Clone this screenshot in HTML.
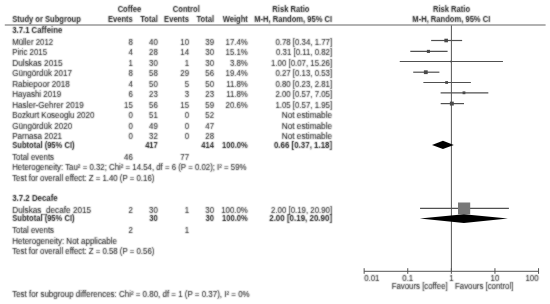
<!DOCTYPE html>
<html><head><meta charset="utf-8"><style>
html,body{margin:0;padding:0;background:#fff;width:550px;height:304px;overflow:hidden}
svg{display:block}
text{font-family:"Liberation Sans",Arial,sans-serif;fill:#222;stroke:#222;stroke-width:0.08px}
text[font-weight=bold]{fill:#1a1a1a;stroke:#1a1a1a;stroke-width:0px}
</style></head><body>
<svg width="550" height="304" viewBox="0 0 550 304">
<defs><filter id="sf" x="0" y="0" width="550" height="304" filterUnits="userSpaceOnUse"><feConvolveMatrix order="3" kernelMatrix="1 2 1 2 12 2 1 2 1" divisor="24" edgeMode="duplicate"/></filter></defs>
<line x1="4.8" y1="25.0" x2="545.6" y2="25.0" stroke="#666" stroke-width="1.2"/>
<g>
<line x1="451.4" y1="25.4" x2="451.4" y2="271.3" stroke="#555" stroke-width="1"/>
<line x1="431.15" y1="40.50" x2="462.14" y2="40.50" stroke="#505050" stroke-width="1.2"/>
<rect x="444.35" y="38.70" width="3.6" height="3.6" fill="#4a4a4a"/>
<line x1="410.30" y1="51.40" x2="447.58" y2="51.40" stroke="#505050" stroke-width="1.2"/>
<rect x="426.88" y="49.85" width="3.1" height="3.1" fill="#4a4a4a"/>
<line x1="399.74" y1="61.50" x2="502.95" y2="61.50" stroke="#505050" stroke-width="1.2"/>
<rect x="450.10" y="60.75" width="1.5" height="1.5" fill="#4a4a4a"/>
<line x1="413.21" y1="72.20" x2="439.39" y2="72.20" stroke="#505050" stroke-width="1.2"/>
<rect x="423.90" y="70.30" width="3.8" height="3.8" fill="#4a4a4a"/>
<line x1="423.36" y1="82.50" x2="470.89" y2="82.50" stroke="#505050" stroke-width="1.2"/>
<rect x="445.22" y="81.10" width="2.8" height="2.8" fill="#4a4a4a"/>
<line x1="440.62" y1="92.80" x2="488.33" y2="92.80" stroke="#505050" stroke-width="1.2"/>
<rect x="462.57" y="91.40" width="2.8" height="2.8" fill="#4a4a4a"/>
<line x1="440.69" y1="103.60" x2="463.99" y2="103.60" stroke="#505050" stroke-width="1.2"/>
<rect x="449.89" y="101.65" width="3.9" height="3.9" fill="#4a4a4a"/>
<line x1="420.04" y1="208.4" x2="508.91" y2="208.4" stroke="#505050" stroke-width="1.2"/>
<rect x="458" y="202.5" width="12.2" height="11.8" fill="#787878"/>
<polygon points="432.03,144.9 442.93,140.70000000000002 453.84,144.9 442.93,149.1" fill="#000"/>
<polygon points="419.86,218.6 463.87,214.2 507.90,218.6 463.87,223.0" fill="#000"/>
<line x1="364.15" y1="271.3" x2="538.55" y2="271.3" stroke="#555" stroke-width="1"/>
<line x1="364.15" y1="268.2" x2="364.15" y2="273.8" stroke="#555" stroke-width="1"/>
<line x1="407.75" y1="268.2" x2="407.75" y2="273.8" stroke="#555" stroke-width="1"/>
<line x1="451.35" y1="268.2" x2="451.35" y2="273.8" stroke="#555" stroke-width="1"/>
<line x1="494.95" y1="268.2" x2="494.95" y2="273.8" stroke="#555" stroke-width="1"/>
<line x1="538.55" y1="268.2" x2="538.55" y2="273.8" stroke="#555" stroke-width="1"/>
</g>
<g filter="url(#sf)">
<text transform="translate(129.45 11.50) scale(1 1.08)" font-size="7.6" text-anchor="middle" font-weight="bold">Coffee</text>
<text transform="translate(186.30 11.50) scale(1 1.08)" font-size="7.6" text-anchor="middle" font-weight="bold">Control</text>
<text transform="translate(290.90 11.50) scale(1 1.08)" font-size="7.6" text-anchor="middle" font-weight="bold">Risk Ratio</text>
<text transform="translate(451.50 11.50) scale(1 1.08)" font-size="7.6" text-anchor="middle" font-weight="bold">Risk Ratio</text>
<text transform="translate(12.20 22.10) scale(1 1.08)" font-size="7.6" font-weight="bold">Study or Subgroup</text>
<text transform="translate(132.80 22.10) scale(1 1.08)" font-size="7.6" text-anchor="end" font-weight="bold">Events</text>
<text transform="translate(157.80 22.10) scale(1 1.08)" font-size="7.6" text-anchor="end" font-weight="bold">Total</text>
<text transform="translate(189.00 22.10) scale(1 1.08)" font-size="7.6" text-anchor="end" font-weight="bold">Events</text>
<text transform="translate(214.00 22.10) scale(1 1.08)" font-size="7.6" text-anchor="end" font-weight="bold">Total</text>
<text transform="translate(247.80 22.10) scale(1 1.08)" font-size="7.6" text-anchor="end" font-weight="bold">Weight</text>
<text transform="translate(332.10 22.10) scale(1 1.08)" font-size="7.6" text-anchor="end" font-weight="bold">M-H, Random, 95% CI</text>
<text transform="translate(451.30 22.10) scale(1 1.08)" font-size="7.6" text-anchor="middle" font-weight="bold">M-H, Random, 95% CI</text>
<text transform="translate(12.20 32.90) scale(1 1.08)" font-size="7.6" font-weight="bold" textLength="50.0" lengthAdjust="spacingAndGlyphs">3.7.1 Caffeine</text>
<text transform="translate(12.20 45.00) scale(1 1.08)" font-size="7.85">Müller 2012</text>
<text transform="translate(132.80 45.00) scale(1 1.08)" font-size="7.85" text-anchor="end">8</text>
<text transform="translate(157.80 45.00) scale(1 1.08)" font-size="7.85" text-anchor="end">40</text>
<text transform="translate(189.00 45.00) scale(1 1.08)" font-size="7.85" text-anchor="end">10</text>
<text transform="translate(214.00 45.00) scale(1 1.08)" font-size="7.85" text-anchor="end">39</text>
<text transform="translate(247.80 45.00) scale(1 1.08)" font-size="7.85" text-anchor="end">17.4%</text>
<text transform="translate(332.10 45.00) scale(1 1.08)" font-size="7.85" text-anchor="end">0.78 [0.34, 1.77]</text>
<text transform="translate(12.20 55.45) scale(1 1.08)" font-size="7.85">Piric 2015</text>
<text transform="translate(132.80 55.45) scale(1 1.08)" font-size="7.85" text-anchor="end">4</text>
<text transform="translate(157.80 55.45) scale(1 1.08)" font-size="7.85" text-anchor="end">28</text>
<text transform="translate(189.00 55.45) scale(1 1.08)" font-size="7.85" text-anchor="end">14</text>
<text transform="translate(214.00 55.45) scale(1 1.08)" font-size="7.85" text-anchor="end">30</text>
<text transform="translate(247.80 55.45) scale(1 1.08)" font-size="7.85" text-anchor="end">15.1%</text>
<text transform="translate(332.10 55.45) scale(1 1.08)" font-size="7.85" text-anchor="end">0.31 [0.11, 0.82]</text>
<text transform="translate(12.20 65.90) scale(1 1.08)" font-size="7.85" textLength="50.36" lengthAdjust="spacingAndGlyphs">Dulskas 2015</text>
<text transform="translate(132.80 65.90) scale(1 1.08)" font-size="7.85" text-anchor="end">1</text>
<text transform="translate(157.80 65.90) scale(1 1.08)" font-size="7.85" text-anchor="end">30</text>
<text transform="translate(189.00 65.90) scale(1 1.08)" font-size="7.85" text-anchor="end">1</text>
<text transform="translate(214.00 65.90) scale(1 1.08)" font-size="7.85" text-anchor="end">30</text>
<text transform="translate(247.80 65.90) scale(1 1.08)" font-size="7.85" text-anchor="end">3.8%</text>
<text transform="translate(332.10 65.90) scale(1 1.08)" font-size="7.85" text-anchor="end">1.00 [0.07, 15.26]</text>
<text transform="translate(12.20 76.35) scale(1 1.08)" font-size="7.85" textLength="59.78" lengthAdjust="spacingAndGlyphs">Güngördük 2017</text>
<text transform="translate(132.80 76.35) scale(1 1.08)" font-size="7.85" text-anchor="end">8</text>
<text transform="translate(157.80 76.35) scale(1 1.08)" font-size="7.85" text-anchor="end">58</text>
<text transform="translate(189.00 76.35) scale(1 1.08)" font-size="7.85" text-anchor="end">29</text>
<text transform="translate(214.00 76.35) scale(1 1.08)" font-size="7.85" text-anchor="end">56</text>
<text transform="translate(247.80 76.35) scale(1 1.08)" font-size="7.85" text-anchor="end">19.4%</text>
<text transform="translate(332.10 76.35) scale(1 1.08)" font-size="7.85" text-anchor="end">0.27 [0.13, 0.53]</text>
<text transform="translate(12.20 86.80) scale(1 1.08)" font-size="7.85" textLength="57.66" lengthAdjust="spacingAndGlyphs">Rabiepoor 2018</text>
<text transform="translate(132.80 86.80) scale(1 1.08)" font-size="7.85" text-anchor="end">4</text>
<text transform="translate(157.80 86.80) scale(1 1.08)" font-size="7.85" text-anchor="end">50</text>
<text transform="translate(189.00 86.80) scale(1 1.08)" font-size="7.85" text-anchor="end">5</text>
<text transform="translate(214.00 86.80) scale(1 1.08)" font-size="7.85" text-anchor="end">50</text>
<text transform="translate(247.80 86.80) scale(1 1.08)" font-size="7.85" text-anchor="end">11.8%</text>
<text transform="translate(332.10 86.80) scale(1 1.08)" font-size="7.85" text-anchor="end">0.80 [0.23, 2.81]</text>
<text transform="translate(12.20 97.25) scale(1 1.08)" font-size="7.85" textLength="49.0" lengthAdjust="spacingAndGlyphs">Hayashi 2019</text>
<text transform="translate(132.80 97.25) scale(1 1.08)" font-size="7.85" text-anchor="end">6</text>
<text transform="translate(157.80 97.25) scale(1 1.08)" font-size="7.85" text-anchor="end">23</text>
<text transform="translate(189.00 97.25) scale(1 1.08)" font-size="7.85" text-anchor="end">3</text>
<text transform="translate(214.00 97.25) scale(1 1.08)" font-size="7.85" text-anchor="end">23</text>
<text transform="translate(247.80 97.25) scale(1 1.08)" font-size="7.85" text-anchor="end">11.8%</text>
<text transform="translate(332.10 97.25) scale(1 1.08)" font-size="7.85" text-anchor="end">2.00 [0.57, 7.05]</text>
<text transform="translate(12.20 107.70) scale(1 1.08)" font-size="7.85" textLength="71.57" lengthAdjust="spacingAndGlyphs">Hasler-Gehrer 2019</text>
<text transform="translate(132.80 107.70) scale(1 1.08)" font-size="7.85" text-anchor="end">15</text>
<text transform="translate(157.80 107.70) scale(1 1.08)" font-size="7.85" text-anchor="end">56</text>
<text transform="translate(189.00 107.70) scale(1 1.08)" font-size="7.85" text-anchor="end">15</text>
<text transform="translate(214.00 107.70) scale(1 1.08)" font-size="7.85" text-anchor="end">59</text>
<text transform="translate(247.80 107.70) scale(1 1.08)" font-size="7.85" text-anchor="end">20.6%</text>
<text transform="translate(332.10 107.70) scale(1 1.08)" font-size="7.85" text-anchor="end">1.05 [0.57, 1.95]</text>
<text transform="translate(12.20 118.15) scale(1 1.08)" font-size="7.85" textLength="82.17" lengthAdjust="spacingAndGlyphs">Bozkurt Koseoglu 2020</text>
<text transform="translate(132.80 118.15) scale(1 1.08)" font-size="7.85" text-anchor="end">0</text>
<text transform="translate(157.80 118.15) scale(1 1.08)" font-size="7.85" text-anchor="end">51</text>
<text transform="translate(189.00 118.15) scale(1 1.08)" font-size="7.85" text-anchor="end">0</text>
<text transform="translate(214.00 118.15) scale(1 1.08)" font-size="7.85" text-anchor="end">52</text>
<text transform="translate(332.10 118.15) scale(1 1.08)" font-size="7.85" text-anchor="end" textLength="50.39" lengthAdjust="spacingAndGlyphs">Not estimable</text>
<text transform="translate(12.20 128.60) scale(1 1.08)" font-size="7.85" textLength="59.98" lengthAdjust="spacingAndGlyphs">Güngördük 2020</text>
<text transform="translate(132.80 128.60) scale(1 1.08)" font-size="7.85" text-anchor="end">0</text>
<text transform="translate(157.80 128.60) scale(1 1.08)" font-size="7.85" text-anchor="end">49</text>
<text transform="translate(189.00 128.60) scale(1 1.08)" font-size="7.85" text-anchor="end">0</text>
<text transform="translate(214.00 128.60) scale(1 1.08)" font-size="7.85" text-anchor="end">47</text>
<text transform="translate(332.10 128.60) scale(1 1.08)" font-size="7.85" text-anchor="end" textLength="50.39" lengthAdjust="spacingAndGlyphs">Not estimable</text>
<text transform="translate(12.20 139.05) scale(1 1.08)" font-size="7.85" textLength="49.88" lengthAdjust="spacingAndGlyphs">Parnasa 2021</text>
<text transform="translate(132.80 139.05) scale(1 1.08)" font-size="7.85" text-anchor="end">0</text>
<text transform="translate(157.80 139.05) scale(1 1.08)" font-size="7.85" text-anchor="end">32</text>
<text transform="translate(189.00 139.05) scale(1 1.08)" font-size="7.85" text-anchor="end">0</text>
<text transform="translate(214.00 139.05) scale(1 1.08)" font-size="7.85" text-anchor="end">28</text>
<text transform="translate(332.10 139.05) scale(1 1.08)" font-size="7.85" text-anchor="end" textLength="50.39" lengthAdjust="spacingAndGlyphs">Not estimable</text>
<text transform="translate(12.20 147.50) scale(1 1.08)" font-size="7.6" font-weight="bold">Subtotal (95% CI)</text>
<text transform="translate(157.80 147.50) scale(1 1.08)" font-size="7.6" text-anchor="end" font-weight="bold">417</text>
<text transform="translate(214.00 147.50) scale(1 1.08)" font-size="7.6" text-anchor="end" font-weight="bold">414</text>
<text transform="translate(247.80 147.50) scale(1 1.08)" font-size="7.6" text-anchor="end" font-weight="bold">100.0%</text>
<text transform="translate(332.10 147.50) scale(1 1.08)" font-size="7.6" text-anchor="end" font-weight="bold" textLength="58.17" lengthAdjust="spacingAndGlyphs">0.66 [0.37, 1.18]</text>
<text transform="translate(12.20 159.70) scale(1 1.08)" font-size="7.85">Total events</text>
<text transform="translate(132.80 159.70) scale(1 1.08)" font-size="7.85" text-anchor="end">46</text>
<text transform="translate(189.00 159.70) scale(1 1.08)" font-size="7.85" text-anchor="end">77</text>
<text transform="translate(12.20 170.20) scale(1 1.08)" font-size="7.85">Heterogeneity: Tau² = 0.32; Chi² = 14.54, df = 6 (P = 0.02); I² = 59%</text>
<text transform="translate(12.20 180.60) scale(1 1.08)" font-size="7.85">Test for overall effect: Z = 1.40 (P = 0.16)</text>
<text transform="translate(12.20 200.50) scale(1 1.08)" font-size="7.6" font-weight="bold" textLength="45.54" lengthAdjust="spacingAndGlyphs">3.7.2 Decafe</text>
<text transform="translate(12.20 212.70) scale(1 1.08)" font-size="7.85" textLength="78.99" lengthAdjust="spacingAndGlyphs">Dulskas_decafe 2015</text>
<text transform="translate(132.80 212.70) scale(1 1.08)" font-size="7.85" text-anchor="end">2</text>
<text transform="translate(157.80 212.70) scale(1 1.08)" font-size="7.85" text-anchor="end">30</text>
<text transform="translate(189.00 212.70) scale(1 1.08)" font-size="7.85" text-anchor="end">1</text>
<text transform="translate(214.00 212.70) scale(1 1.08)" font-size="7.85" text-anchor="end">30</text>
<text transform="translate(247.80 212.70) scale(1 1.08)" font-size="7.85" text-anchor="end">100.0%</text>
<text transform="translate(332.10 212.70) scale(1 1.08)" font-size="7.85" text-anchor="end">2.00 [0.19, 20.90]</text>
<text transform="translate(12.20 221.40) scale(1 1.08)" font-size="7.6" font-weight="bold">Subtotal (95% CI)</text>
<text transform="translate(157.80 221.40) scale(1 1.08)" font-size="7.6" text-anchor="end" font-weight="bold">30</text>
<text transform="translate(214.00 221.40) scale(1 1.08)" font-size="7.6" text-anchor="end" font-weight="bold">30</text>
<text transform="translate(247.80 221.40) scale(1 1.08)" font-size="7.6" text-anchor="end" font-weight="bold">100.0%</text>
<text transform="translate(332.10 221.40) scale(1 1.08)" font-size="7.6" text-anchor="end" font-weight="bold" textLength="62.89" lengthAdjust="spacingAndGlyphs">2.00 [0.19, 20.90]</text>
<text transform="translate(12.20 233.40) scale(1 1.08)" font-size="7.85">Total events</text>
<text transform="translate(132.80 233.40) scale(1 1.08)" font-size="7.85" text-anchor="end">2</text>
<text transform="translate(189.00 233.40) scale(1 1.08)" font-size="7.85" text-anchor="end">1</text>
<text transform="translate(12.20 243.90) scale(1 1.08)" font-size="7.85" textLength="104.78" lengthAdjust="spacingAndGlyphs">Heterogeneity: Not applicable</text>
<text transform="translate(12.20 254.10) scale(1 1.08)" font-size="7.85">Test for overall effect: Z = 0.58 (P = 0.56)</text>
<text transform="translate(12.20 296.70) scale(1 1.08)" font-size="7.85" textLength="237.45" lengthAdjust="spacingAndGlyphs">Test for subgroup differences: Chi² = 0.80, df = 1 (P = 0.37), I² = 0%</text>
<text transform="translate(364.15 280.50) scale(1 1.08)" font-size="7.85">0.01</text>
<text transform="translate(407.75 280.50) scale(1 1.08)" font-size="7.85" text-anchor="middle">0.1</text>
<text transform="translate(451.35 280.50) scale(1 1.08)" font-size="7.85" text-anchor="middle">1</text>
<text transform="translate(494.95 280.50) scale(1 1.08)" font-size="7.85" text-anchor="middle">10</text>
<text transform="translate(538.55 280.50) scale(1 1.08)" font-size="7.85" text-anchor="end">100</text>
<text transform="translate(447.70 288.90) scale(1 1.08)" font-size="7.85" text-anchor="end">Favours [coffee]</text>
<text transform="translate(455.00 288.90) scale(1 1.08)" font-size="7.85">Favours [control]</text>
</g></svg></body></html>
